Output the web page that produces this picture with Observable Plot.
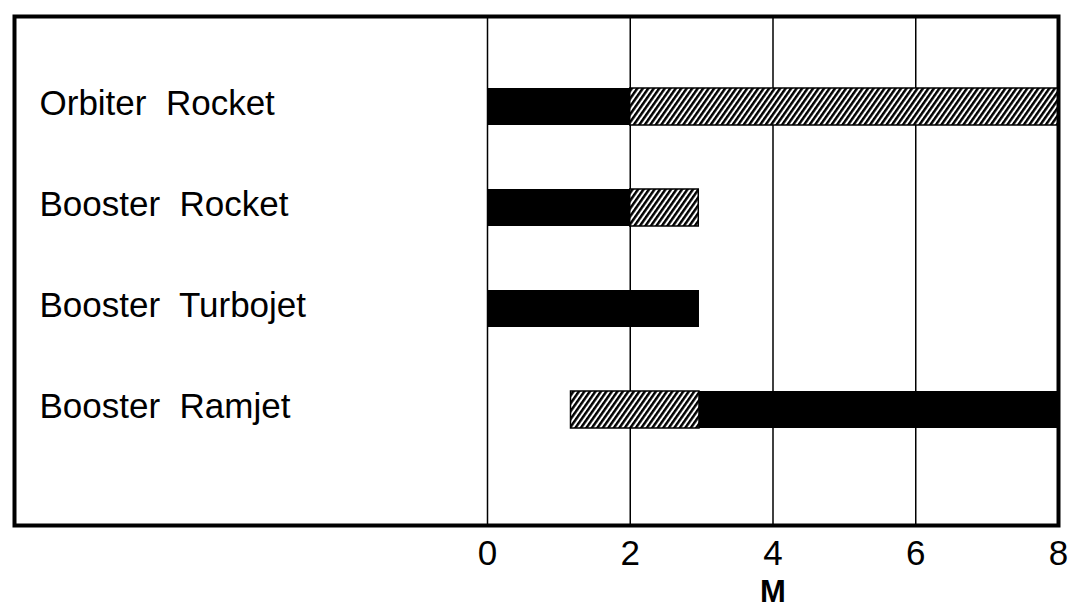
<!DOCTYPE html>
<html><head><meta charset="utf-8">
<script src="https://cdn.jsdelivr.net/npm/d3@7"></script>
<script src="https://cdn.jsdelivr.net/npm/@observablehq/plot@0.6"></script>
<style>
body{margin:0;background:#fff}
svg text{white-space:pre}
</style>
</head><body><div id="chart"></div>
<script>
// Categories (top to bottom)
const categories = ["Orbiter  Rocket", "Booster  Rocket", "Booster  Turbojet", "Booster  Ramjet"];
// Bar segments
const segCategory = ["Orbiter  Rocket", "Orbiter  Rocket", "Booster  Rocket", "Booster  Rocket", "Booster  Turbojet", "Booster  Ramjet", "Booster  Ramjet"];
const segStart = [0, 2, 0, 2, 0, 1.17, 2.97];
const segEnd   = [2, 8, 2, 2.96, 2.97, 2.97, 8];
const segStyle = ["solid", "hatched", "solid", "hatched", "solid", "hatched", "solid"];
// Axis
const xTicks = [0, 2, 4, 6, 8];
const gridValues = [0, 2, 4, 6];
const xLabel = "M";

const segs = segCategory.map((c, i) => ({cat: c, x1: segStart[i], x2: segEnd[i], style: segStyle[i]}));

const chart = Plot.plot({
  width: 1079, height: 611,
  marginLeft: 14, marginRight: 21, marginTop: 16, marginBottom: 86,
  style: {fontFamily: "'Liberation Sans', Arial, Helvetica, sans-serif", background: "#fff", color: "#000", overflow: "visible"},
  x: {domain: [0, 8], range: [487, 1058]},
  y: {domain: categories, range: [55, 462], paddingInner: 0.63, paddingOuter: 0.315, axis: null},
  marks: [
    Plot.ruleX(gridValues, {stroke: "#000", strokeWidth: 1.5}),
    Plot.barX(segs.filter(d => d.style === "solid"), {x1: "x1", x2: "x2", y: "cat", fill: "#000"}),
    Plot.barX(segs.filter(d => d.style === "hatched"), {x1: "x1", x2: "x2", y: "cat", fill: "url(#hatch)", stroke: "#000", strokeWidth: 1.5}),
    Plot.text(categories, {y: d => d, text: d => d, frameAnchor: "left", dx: 25, dy: -3, textAnchor: "start", fontSize: 35, fill: "#000"}),
    Plot.axisX({ticks: xTicks, tickSize: 0, tickPadding: 15, fontSize: 35, label: null}),
    Plot.text([xLabel], {x: () => 4, frameAnchor: "bottom", dy: 76, fontSize: 31, fontWeight: "bold", fill: "#000"}),
    Plot.frame({stroke: "#000", strokeWidth: 4})
  ]
});

const svg = d3.select(chart);
const pat = svg.insert("defs", ":first-child").append("pattern")
  .attr("id", "hatch").attr("patternUnits", "userSpaceOnUse")
  .attr("width", 4.5).attr("height", 4.5).attr("patternTransform", "rotate(35)");
pat.append("rect").attr("width", 4.5).attr("height", 4.5).attr("fill", "#fff");
pat.append("line").attr("x1", 1.25).attr("y1", 0).attr("x2", 1.25).attr("y2", 4.5).attr("stroke", "#000").attr("stroke-width", 2.5);

document.getElementById("chart").appendChild(chart);
</script>
</body></html>
